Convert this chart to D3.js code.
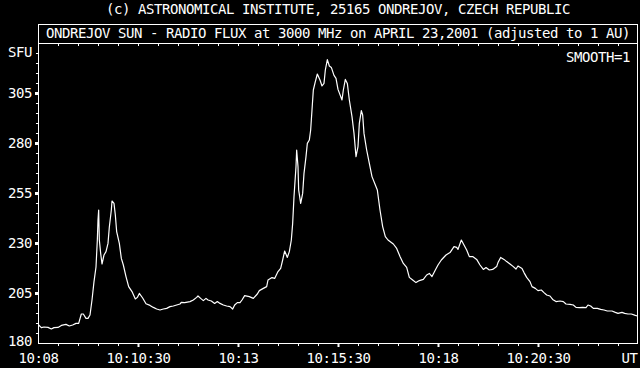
<!DOCTYPE html>
<html>
<head>
<meta charset="utf-8">
<script src="https://cdn.jsdelivr.net/npm/d3@7"></script>
<style>
  html, body { margin: 0; padding: 0; background: #000; }
  svg { display: block; }
  text { font-family: "DejaVu Sans Mono", "Liberation Mono", monospace; font-size: 14px; letter-spacing: -0.43px; fill: #fff; }
  .axis .domain { display: none; }
  .axis line { stroke: #fff; }
</style>
</head>
<body>
<div class="chart"></div>
<script>
// seconds after 10:08:00 UT
var secs = [1, 5, 9, 15, 20, 24, 30, 35, 42, 47, 52, 57, 61, 65, 68, 72, 75, 78, 81, 84,
  87, 89, 90, 91, 92, 94, 96, 99, 102, 105, 107, 110, 111, 114, 116, 118, 122, 125, 128, 132,
  136, 141, 146, 149, 152, 157, 162, 168, 173, 178, 183, 188, 193, 198, 203, 208, 213, 215, 220, 228,
  233, 238, 240, 244, 248, 252, 255, 260, 265, 269, 273, 278, 283, 288, 292, 295, 299, 303, 306, 310,
  317, 323, 329, 332, 338, 343, 345, 351, 355, 360, 364, 367, 370, 374, 377, 380, 382, 384, 387, 388,
  390, 391, 394, 397, 399, 402, 404, 407, 409, 411, 413, 416, 419, 423, 426, 429, 431, 434, 437, 440,
  444, 447, 450, 456, 458, 461, 464, 467, 471, 474, 477, 480, 482, 485, 487, 489, 493, 497, 501, 506,
  509, 513, 517, 521, 525, 533, 538, 543, 548, 553, 557, 562, 567, 572, 578, 583, 587, 591, 596, 600,
  605, 612, 618, 624, 628, 630, 635, 639, 643, 647, 652, 658, 663, 668, 672, 677, 682, 688, 690, 694,
  699, 703, 708, 713, 717, 720, 726, 729, 733, 738, 741, 746, 750, 755, 759, 763, 768, 772, 777, 783,
  788, 792, 798, 803, 807, 812, 817, 822, 825, 829, 833, 839, 844, 849, 854, 861, 866, 870, 876, 880,
  885, 890, 896, 899]

var sfu = [189, 187.7, 188, 187.8, 187, 187.7, 187.8, 188.8, 189.3, 188.5, 189, 189.8, 189.8, 194.5, 194.5, 192.3, 192.3, 194, 201.5, 210.7,
  218, 231.5, 241.5, 246.5, 231.5, 224.8, 219.5, 224, 225.7, 229.8, 238, 246.5, 251, 249.8, 244, 235.7, 229.8, 222.3, 219, 213.2,
  208.2, 205.7, 202, 202.8, 204.8, 202.5, 199.6, 198.8, 197.8, 197, 196.5, 197, 197.3, 198.2, 198.5, 199, 199.5, 200.3, 200.2, 200.7,
  201.5, 202.8, 203.5, 202.3, 201.2, 202.3, 201.5, 201, 199.8, 200.7, 199.8, 199, 198.5, 198.2, 197, 199, 200.2, 200.2, 201.5, 203.7,
  203.2, 202.3, 204.5, 206.2, 207.3, 208.2, 211.5, 212.7, 212.3, 215.7, 217.3, 221.5, 226, 222.8, 225.7, 231.5, 239.8, 253.2, 268.2, 276.5,
  268.2, 256.5, 249.8, 254.8, 264.8, 273.2, 279.8, 281.5, 286.5, 296.5, 306.5, 310.7, 314.5, 311.5, 308.5, 309.8, 316.5, 321.7, 318.5, 317.8,
  313.8, 312.3, 306.8, 301.5, 306.5, 311.8, 309.8, 301.5, 293.2, 284.8, 273.2, 278.2, 289.8, 296.2, 294, 284.8, 276.5, 269.8, 263.2, 259,
  256.5, 246.5, 238.2, 233.2, 231.5, 229.5, 227.3, 223.3, 219.8, 217.8, 212.8, 211.5, 210.2, 211.2, 211.8, 214, 214.8, 213.2, 216.5, 219,
  221.5, 224, 225.2, 228.2, 227.8, 226.8, 231.5, 229, 226.5, 223.2, 223.2, 221.8, 219, 216.8, 217.7, 216.5, 216.8, 218.2, 220.2, 222.8,
  221.8, 220.7, 219.5, 218.2, 217, 218.5, 217.3, 215.2, 212.8, 210.7, 208.2, 207.3, 206.2, 206.5, 205.2, 204, 203.5, 201.8, 200.7, 201,
  200.7, 199.5, 199.3, 199, 197.8, 197.7, 197.8, 197.7, 199, 198.5, 197.3, 197.3, 196.8, 196.5, 196, 196, 195.3, 194.8, 195.3, 194.8,
  194.5, 194.5, 193.8, 193.5]

var yTicks = [180, 205, 230, 255, 280, 305]
var xTicks = [0, 150, 300, 450, 600, 750, 900]
var xTickLabels = ['10:08', '10:10:30', '10:13', '10:15:30', '10:18', '10:20:30', 'UT']

var copyright = '(c) ASTRONOMICAL INSTITUTE, 25165 ONDREJOV, CZECH REPUBLIC'
var title = 'ONDREJOV SUN - RADIO FLUX at 3000 MHz on APRIL 23,2001 (adjusted to 1 AU)'
var unitLabel = 'SFU'
var smoothLabel = 'SMOOTH=1'

var width = 640, height = 368
var margin = {left: 38, right: 2, top: 43, bottom: 25}

var svg = d3.select('.chart').append('svg')
  .attr('width', width).attr('height', height)

svg.append('rect').attr('width', width).attr('height', height).attr('fill', '#000')

var x = d3.scaleLinear().domain([0, 900]).range([margin.left, width - margin.right])
var y = d3.scaleLinear().domain([180, 330]).range([height - margin.bottom, margin.top])

// header
svg.append('text')
  .attr('x', 338).attr('y', 14)
  .attr('text-anchor', 'middle')
  .text(copyright)

svg.append('rect')
  .attr('x', margin.left + .5).attr('y', 24.5)
  .attr('width', width - margin.left - margin.right - 1).attr('height', margin.top - 24)
  .attr('fill', 'none').attr('stroke', '#fff')

svg.append('text')
  .attr('x', 338).attr('y', 38)
  .attr('text-anchor', 'middle')
  .text(title)

// frame
svg.append('rect')
  .attr('x', margin.left + .5).attr('y', margin.top + .5)
  .attr('width', width - margin.left - margin.right - 1).attr('height', height - margin.top - margin.bottom)
  .attr('fill', 'none').attr('stroke', '#fff')

// minor ticks, every 5 SFU and every 30 s
var yMinor = d3.range(185, 330, 5).filter(d => (d - 180) % 25)
svg.append('g').attr('class', 'axis')
  .attr('transform', `translate(${margin.left},0)`)
  .call(d3.axisLeft(y).tickValues(yMinor).tickSize(2).tickFormat(''))
  .attr('shape-rendering', 'crispEdges')

var xMinor = d3.range(30, 900, 30).filter(d => d % 150)
svg.append('g').attr('class', 'axis')
  .attr('transform', `translate(0,${y(180) + 1})`)
  .call(d3.axisBottom(x).tickValues(xMinor).tickSize(2).tickFormat(''))
  .attr('shape-rendering', 'crispEdges')

svg.append('g').attr('class', 'axis')
  .attr('transform', `translate(0,${margin.top + 1})`)
  .call(d3.axisBottom(x).tickValues(d3.range(30, 900, 30)).tickSize(2).tickFormat(''))
  .attr('shape-rendering', 'crispEdges')

// major ticks with labels
var yAxis = svg.append('g').attr('class', 'axis')
  .attr('transform', `translate(${margin.left},0)`)
  .call(d3.axisLeft(y).tickValues(yTicks).tickSize(3).tickPadding(3).tickFormat(d => d))
yAxis.selectAll('line').attr('stroke-width', 3)
yAxis.selectAll('text').attr('font-family', null).attr('font-size', null)
  .attr('fill', null).attr('dy', '0.35em')
yAxis.selectAll('.tick').filter(d => d == 180).select('line').remove()
yAxis.selectAll('.tick').filter(d => d == 180).select('text').attr('dy', '0.2em')

var xAxis = svg.append('g').attr('class', 'axis')
  .attr('transform', `translate(0,${y(180) + 1})`)
  .call(d3.axisBottom(x).tickValues(xTicks).tickSize(3).tickPadding(6)
    .tickFormat((d, i) => xTickLabels[i]))
xAxis.selectAll('line').attr('stroke-width', 2)
xAxis.selectAll('text').attr('font-family', null).attr('font-size', null).attr('fill', null)
xAxis.selectAll('.tick').filter(d => d == 900).select('text').attr('text-anchor', 'end').attr('dx', '-1')
xAxis.selectAll('.tick').filter(d => d == 0 || d == 900).select('line').remove()

svg.append('text')
  .attr('x', 8).attr('y', 57)
  .text(unitLabel)

svg.append('text')
  .attr('x', 630).attr('y', 62)
  .attr('text-anchor', 'end')
  .text(smoothLabel)

// flux curve
var points = secs.map((s, i) => [s, sfu[i]])
var line = d3.line()
  .x(d => x(d[0]))
  .y(d => y(d[1]))

svg.append('path')
  .datum(points)
  .attr('d', line)
  .attr('fill', 'none')
  .attr('stroke', '#fff')
  .attr('stroke-width', 1.2)
  .attr('stroke-linejoin', 'round')
</script>
</body>
</html>
